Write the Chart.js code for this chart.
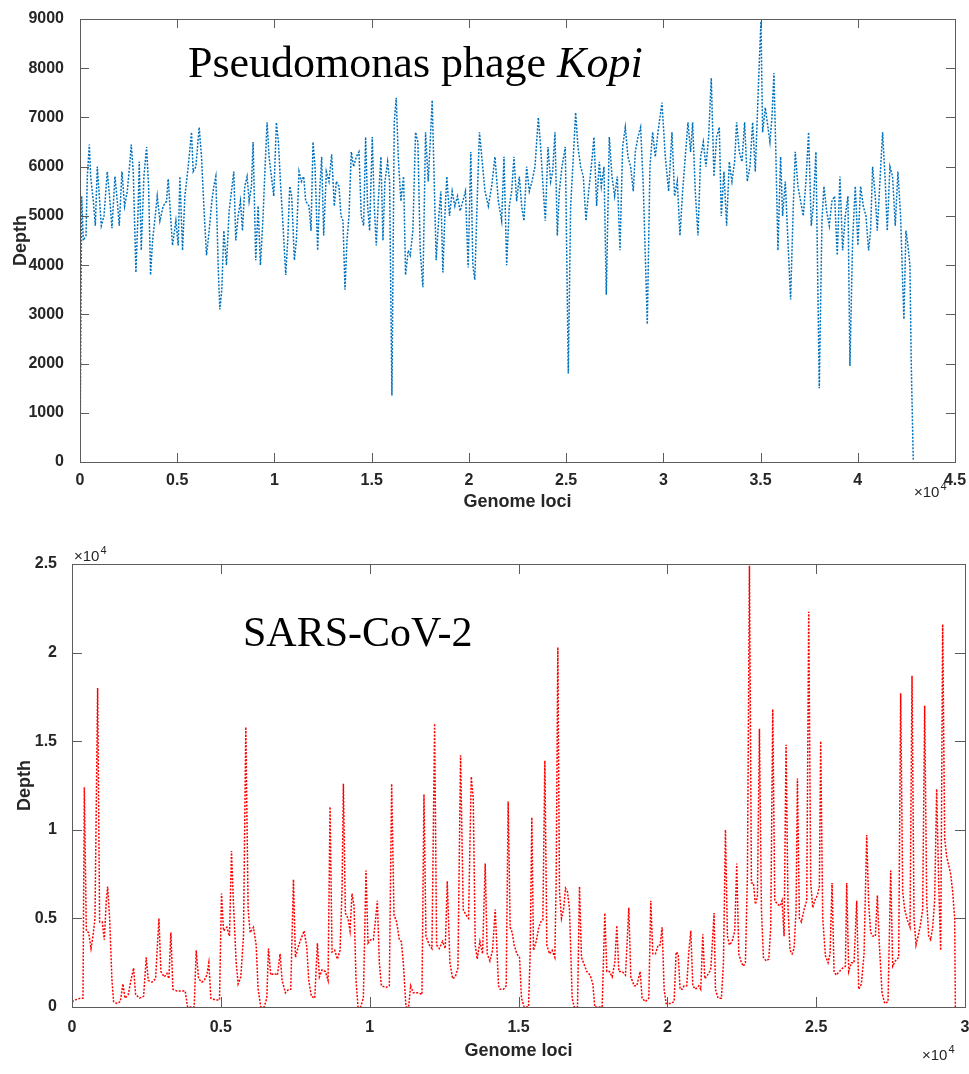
<!DOCTYPE html>
<html>
<head>
<meta charset="utf-8">
<script src="https://cdn.jsdelivr.net/npm/chart.js@4.4.1/dist/chart.umd.min.js"></script>
<style>
html, body { margin: 0; padding: 0; background: #fff; }
#wrap { position: relative; width: 969px; height: 1074px; }
canvas { position: absolute; left: 0; }
#kopi { top: 0; }
#sars { top: 520px; }
</style>
</head>
<body>
<div id="wrap">
  <canvas id="kopi" width="969" height="520"></canvas>
  <canvas id="sars" width="969" height="554"></canvas>
</div>
<script>
// Pseudomonas phage Kopi
const kopiLoci = [
  0,86,171,308,377,479,548,685,788,890,
  993,1096,1233,1404,1541,1644,1798,1917,2020,2157,
  2294,2431,2568,2636,2739,2876,2979,3047,3150,3287,
  3424,3527,3629,3732,3869,3972,4109,4280,4451,4537,
  4657,4759,4931,5050,5136,5273,5393,5564,5735,5821,
  5958,6129,6249,6369,6506,6643,6780,6882,6985,7105,
  7190,7293,7396,7533,7670,7790,7909,8012,8132,8252,
  8355,8474,8594,8697,8817,8902,9039,9159,9279,9416,
  9519,9621,9724,9844,9964,10101,10204,10306,10443,10580,
  10683,10786,10888,11025,11128,11265,11385,11505,11607,11779,
  11881,11984,12087,12224,12326,12429,12532,12669,12806,12943,
  13080,13182,13319,13422,13525,13628,13730,13833,13953,14073,
  14210,14347,14466,14586,14689,14792,14894,15031,15134,15237,
  15340,15476,15579,15682,15819,15922,16041,16161,16264,16367,
  16504,16641,16743,16880,16983,17120,17257,17377,17497,17634,
  17771,17908,18010,18113,18216,18318,18455,18558,18661,18764,
  18866,19003,19140,19277,19414,19551,19688,19825,19962,20099,
  20202,20304,20441,20544,20828,21000,21171,21342,21514,21685,
  21805,21942,22079,22199,22319,22456,22594,22714,22833,22970,
  23108,23245,23399,23571,23690,23828,23930,24068,24205,24308,
  24428,24548,24650,24787,24959,25113,25233,25370,25490,25610,
  25747,25884,26022,26159,26296,26433,26570,26707,26810,26947,
  27067,27221,27358,27496,27633,27770,27907,28044,28181,28318,
  28455,28558,28695,28832,28970,29175,29312,29450,29587,29724,
  29930,30101,30272,30444,30581,30718,30855,30992,31129,31266,
  31403,31506,31643,31781,31918,32055,32192,32329,32466,32603,
  32740,32878,32981,33118,33255,33392,33529,33666,33769,33906,
  34043,34180,34317,34454,34592,34729,34831,34934,35020,35106,
  35243,35346,35483,35586,35688,35791,35894,36031,36134,36271,
  36408,36545,36683,36785,36922,37060,37197,37334,37471,37608,
  37711,37848,38020,38157,38260,38397,38534,38671,38808,38945,
  39082,39220,39357,39494,39596,39734,39871,40008,40145,40282,
  40419,40556,40659,40762,40899,41002,41139,41276,41413,41516,
  41653,41790,41928,42065,42202,42305,42373,42476,42579,42682,
  42750,42853
];
const kopiDepth = [
  0,5400,4500,4600,5800,6450,5800,5300,4800,6000,
  5400,4800,5000,5900,5300,4750,5800,5300,4800,5900,
  5200,5500,6100,6450,5900,3850,5000,6100,4300,5800,
  6400,5600,3800,4500,5000,5400,4900,5200,5300,5750,
  5000,4400,4900,4400,5800,4300,5400,6000,6700,5900,
  6000,6800,6200,5200,4200,4700,5300,5600,5800,4000,
  3100,3500,4700,4000,5100,5500,5900,4500,5000,5300,
  4700,5600,5800,5300,5600,6500,4100,5200,4000,5000,
  6000,6900,6200,5800,5400,6900,6500,5700,4800,3800,
  4500,5600,5400,4100,4500,5900,5700,5800,5300,5200,
  4700,6500,6000,4300,5500,6200,4600,5900,5700,6250,
  5200,5700,5600,5000,4900,3500,4500,5000,6300,6000,
  6200,6300,5000,4800,6600,5200,4700,6600,5200,4400,
  5300,6200,4500,5700,6100,5700,1350,6900,7400,6200,
  5300,5800,3800,4300,4200,4700,6700,6500,4300,3550,
  6700,5700,6500,7350,5700,4100,5000,5500,3850,5000,
  5800,5000,5500,5200,5400,5100,5300,5500,3950,6300,
  4000,3700,5500,6700,5500,5200,5600,6200,5300,4900,
  6200,4000,5200,5500,6200,5300,5800,5200,4900,6000,
  5500,5700,6000,7000,6400,5500,4900,6400,5700,5900,
  6700,4600,5500,6000,6400,1800,5200,6200,7100,6400,
  6000,5800,4900,5500,6000,6600,5200,6100,5600,6000,
  3400,6600,5800,5400,5800,4300,6400,6800,6200,6000,
  5500,6300,6600,6800,5600,2800,6000,6700,6200,6700,
  7300,6200,5500,6700,5400,5700,4600,5500,6200,6900,
  6300,6900,5500,4600,6200,6500,6000,6600,7800,5800,
  6600,6800,5000,5900,4800,6100,5700,6100,6900,6300,
  6100,6900,5700,6000,6900,5900,7000,8100,8950,6700,
  7200,6900,6500,7000,7900,6200,4300,6200,5000,5700,
  4500,3300,5200,6300,5600,5300,5000,5700,6700,4800,
  5200,6300,1500,4900,5600,5100,4800,5300,5400,4200,
  5800,4300,5000,5400,1950,4500,5600,4400,5600,5200,
  5000,4300,4700,6000,5400,4700,5700,6700,5700,4700,
  6000,5800,4800,5900,5000,3700,2900,4700,4400,4000,
  2000,50
];

// SARS-CoV-2
const sarsLoci = [
  0,112,280,369,414,481,559,638,705,772,
  861,928,1018,1085,1152,1197,1264,1342,1398,1510,
  1622,1711,1779,1890,1980,2069,2137,2271,2405,2494,
  2562,2685,2808,2920,2987,3099,3188,3255,3322,3389,
  3524,3691,3803,3882,4027,4105,4172,4251,4363,4441,
  4530,4597,4665,4810,4955,5023,5090,5201,5291,5358,
  5425,5515,5582,5671,5761,5839,5917,5985,6096,6186,
  6253,6342,6454,6544,6600,6678,6790,6902,6991,7058,
  7170,7282,7349,7439,7506,7618,7707,7797,7886,7953,
  8043,8155,8244,8311,8401,8513,8602,8669,8736,8826,
  8915,9005,9072,9117,9184,9273,9340,9407,9475,9542,
  9609,9698,9788,9877,9944,10034,10123,10190,10258,10325,
  10392,10548,10660,10739,10817,10906,10996,11063,11130,11220,
  11309,11376,11466,11633,11757,11824,11891,12003,12092,12182,
  12249,12338,12450,12539,12607,12696,12786,12875,12965,13054,
  13143,13233,13322,13412,13479,13546,13613,13703,13792,13882,
  13949,14039,14128,14218,14329,14385,14497,14586,14653,14720,
  14788,14855,14944,15034,15101,15189,15336,15392,15448,15504,
  15594,15683,15750,15818,15885,15952,16041,16131,16220,16265,
  16321,16377,16444,16512,16579,16646,16713,16803,16870,16982,
  17049,17116,17206,17295,17407,17497,17564,17698,17810,17900,
  17967,18056,18146,18235,18303,18370,18482,18594,18706,18773,
  18885,18974,19086,19153,19265,19377,19444,19512,19601,19691,
  19758,19825,19892,19959,20094,20228,20295,20362,20429,20497,
  20564,20653,20720,20788,20855,20944,21056,21123,21191,21258,
  21347,21459,21571,21616,21706,21817,21885,21952,22019,22086,
  22176,22265,22332,22400,22489,22556,22623,22691,22758,22825,
  22892,22959,23026,23094,23161,23228,23318,23407,23474,23541,
  23609,23698,23788,23855,23922,23989,24056,24123,24191,24258,
  24325,24370,24437,24504,24594,24683,24750,24817,24885,24952,
  25041,25108,25153,25220,25310,25400,25467,25534,25601,25668,
  25780,25892,25982,26026,26093,26183,26272,26362,26429,26519,
  26608,26698,26765,26832,26899,26989,27056,27123,27213,27302,
  27414,27504,27571,27660,27772,27839,27907,27974,28063,28153,
  28220,28287,28354,28422,28489,28578,28645,28713,28780,28847,
  28914,28981,29048,29116,29183,29250,29317,29384,29452,29519,
  29586,29653,29676
];
const sarsDepth = [
  300,400,500,500,12400,4300,4200,3300,4000,5000,
  18000,4800,4800,3800,6000,6800,5000,1500,300,200,
  300,1300,500,700,1500,2200,700,500,600,2800,
  1500,1400,1600,5000,2000,1700,1900,1600,4200,1000,
  900,900,900,0,0,0,3200,1600,1400,1500,
  1800,2500,500,400,400,6400,4300,4500,4000,8800,
  5800,2500,1300,1700,4000,15800,5500,4200,4500,3500,
  1000,0,0,500,3300,1800,1900,1800,3000,1500,
  800,1000,1000,7200,2800,3500,3900,4300,3400,1500,
  600,500,3600,1700,2100,2000,1500,11300,3100,3200,
  2700,3200,6600,12600,5300,5000,4300,6400,5700,1500,
  0,0,500,7700,3600,3800,3800,4800,6000,2500,
  1200,1100,1200,12600,5200,4800,3800,3700,2500,0,
  0,1200,800,800,700,12000,4000,3500,3300,16000,
  3500,3300,3700,3300,7100,2500,1600,1700,2200,14200,
  5500,5200,5000,13000,11800,3500,2700,3700,3000,8100,
  3000,2600,3200,5500,1200,1000,1000,1200,11600,4500,
  4200,3500,3000,2800,500,0,0,3000,10700,3200,
  3700,4500,4800,4900,13900,3500,3000,3200,2800,7000,
  20300,6500,5000,5500,6700,6500,5500,500,0,0,
  6800,2800,2400,2000,1800,1300,0,0,0,5300,
  2000,2000,1700,2500,4600,2000,2000,1800,5600,1700,
  1200,1200,2000,500,300,500,6000,3000,3000,3500,
  3500,4500,1000,200,200,300,3100,3000,1000,1000,
  1200,1200,3100,4300,1200,1000,1200,1000,4100,1600,
  1800,2100,5300,1000,500,500,2500,10000,4000,3500,
  3700,4300,8100,3000,2500,2300,2500,7500,24900,7000,
  7000,5800,6200,15700,5500,2800,2600,2700,4500,16800,
  6000,5800,5700,6000,4000,14800,5500,3200,3000,3300,
  5500,12900,5000,4800,5500,6000,22300,7000,5600,6000,
  6300,6800,15000,5000,2900,2500,3000,7000,2000,1800,
  2000,2200,2300,7000,2000,2500,2500,6000,1000,1300,
  3000,9700,5800,4200,4000,4000,6300,3500,800,200,
  300,7700,2300,2600,2800,17700,6500,5500,4900,4500,
  18700,5000,3500,4000,4500,5500,17000,6000,4000,3800,
  4500,6000,12300,7000,3200,21600,9500,8500,8000,7500,
  6500,5000,0
];

Chart.defaults.font.family = '"Liberation Sans", Arial, sans-serif';
Chart.defaults.color = '#262626';

function toPoints(xs, ys) {
  return xs.map((x, i) => ({ x: x, y: ys[i] }));
}

function drawExpo(ctx, x, y) {
  ctx.font = '15px "Liberation Sans", Arial, sans-serif';
  ctx.fillStyle = '#262626';
  ctx.textAlign = 'left';
  ctx.textBaseline = 'alphabetic';
  ctx.fillText('\u00d710', x, y);
  const w = ctx.measureText('\u00d710').width;
  ctx.font = '11px "Liberation Sans", Arial, sans-serif';
  ctx.fillText('4', x + w + 1, y - 7);
}

// MATLAB style box with inward ticks, big label and x10^4 notes
function matlabFrame(cfg) {
  return {
    id: 'matlabFrame',
    afterDatasetsDraw(chart) {
      const ctx = chart.ctx;
      const a = chart.chartArea;
      const xs = chart.scales.x, ys = chart.scales.y;
      ctx.save();
      ctx.strokeStyle = '#5c5c5c';
      ctx.lineWidth = 1;
      ctx.beginPath();
      xs.ticks.forEach(t => {
        const px = Math.round(xs.getPixelForValue(t.value)) + 0.5;
        ctx.moveTo(px, a.bottom); ctx.lineTo(px, a.bottom - cfg.tick);
        ctx.moveTo(px, a.top); ctx.lineTo(px, a.top + cfg.tick);
      });
      ys.ticks.forEach(t => {
        const py = Math.round(ys.getPixelForValue(t.value)) + 0.5;
        ctx.moveTo(a.left, py); ctx.lineTo(a.left + cfg.tick, py);
        ctx.moveTo(a.right, py); ctx.lineTo(a.right - cfg.tick, py);
      });
      ctx.stroke();
      ctx.strokeRect(Math.round(a.left) + 0.5, Math.round(a.top) + 0.5,
        Math.round(a.right - a.left), Math.round(a.bottom - a.top));

      ctx.fillStyle = '#000';
      ctx.textAlign = 'left';
      ctx.textBaseline = 'alphabetic';
      let x = cfg.titleX;
      cfg.title.forEach(p => {
        ctx.font = (p.italic ? 'italic ' : '') + cfg.titleSize + 'px "Liberation Serif", "Times New Roman", serif';
        ctx.fillText(p.text, x, cfg.titleY);
        x += ctx.measureText(p.text).width;
      });
      cfg.expo.forEach(e => drawExpo(ctx, e.x, e.y));
      ctx.restore();
    }
  };
}

function makeChart(id, points, color, opt) {
  return new Chart(document.getElementById(id), {
    type: 'line',
    data: {
      datasets: [{
        data: points,
        borderColor: color,
        borderWidth: 1.5,
        borderDash: [2, 1.5],
        pointRadius: 0,
        tension: 0,
        fill: false
      }]
    },
    options: {
      responsive: false,
      devicePixelRatio: 1,
      animation: false,
      events: [],
      layout: { padding: { top: opt.padTop, right: opt.padRight, left: 0, bottom: 0 } },
      plugins: { legend: { display: false }, tooltip: { enabled: false } },
      scales: {
        x: {
          type: 'linear',
          min: 0, max: opt.xMax,
          afterFit: s => { s.height = opt.xHeight; s.paddingRight = 0; s.paddingLeft = 0; },
          grid: { display: false },
          border: { display: false },
          ticks: {
            stepSize: 5000,
            padding: opt.xTickPad,
            maxRotation: 0,
            font: { size: 16, weight: 'bold' },
            callback: v => String(v / 10000)
          },
          title: {
            display: true, text: 'Genome loci',
            font: { size: 18, weight: 'bold' },
            padding: { top: 0, bottom: opt.xTitlePad }
          }
        },
        y: {
          min: 0, max: opt.yMax,
          afterFit: s => { s.width = opt.yWidth; },
          grid: { display: false },
          border: { display: false },
          ticks: {
            stepSize: opt.yStep,
            padding: opt.yTickPad,
            font: { size: 16, weight: 'bold' },
            callback: opt.yLabel
          },
          title: {
            display: true, text: 'Depth',
            font: { size: 18, weight: 'bold' },
            padding: { top: opt.yTitlePad, bottom: 0 }
          }
        }
      }
    },
    plugins: [matlabFrame(opt.frame)]
  });
}

makeChart('kopi', toPoints(kopiLoci, kopiDepth), '#0072BD', {
  padTop: 19, padRight: 14, xHeight: 58, yWidth: 80,
  xMax: 45000, yMax: 9000, yStep: 1000,
  xTickPad: 1, yTickPad: 8, xTitlePad: 7, yTitlePad: 10,
  yLabel: v => String(v),
  frame: {
    tick: 9,
    title: [{ text: 'Pseudomonas phage ', italic: false }, { text: 'Kopi', italic: true }],
    titleX: 188, titleY: 77, titleSize: 44,
    expo: [{ x: 914, y: 497 }]
  }
});

makeChart('sars', toPoints(sarsLoci, sarsDepth), '#FF0000', {
  padTop: 44, padRight: 4, xHeight: 67, yWidth: 72,
  xMax: 30000, yMax: 25000, yStep: 5000,
  xTickPad: 3, yTickPad: 7, xTitlePad: 12, yTitlePad: 14,
  yLabel: v => String(v / 10000),
  frame: {
    tick: 10,
    title: [{ text: 'SARS-CoV-2', italic: false }],
    titleX: 243, titleY: 126, titleSize: 42,
    expo: [{ x: 74, y: 41 }, { x: 922, y: 540 }]
  }
});
</script>
</body>
</html>
